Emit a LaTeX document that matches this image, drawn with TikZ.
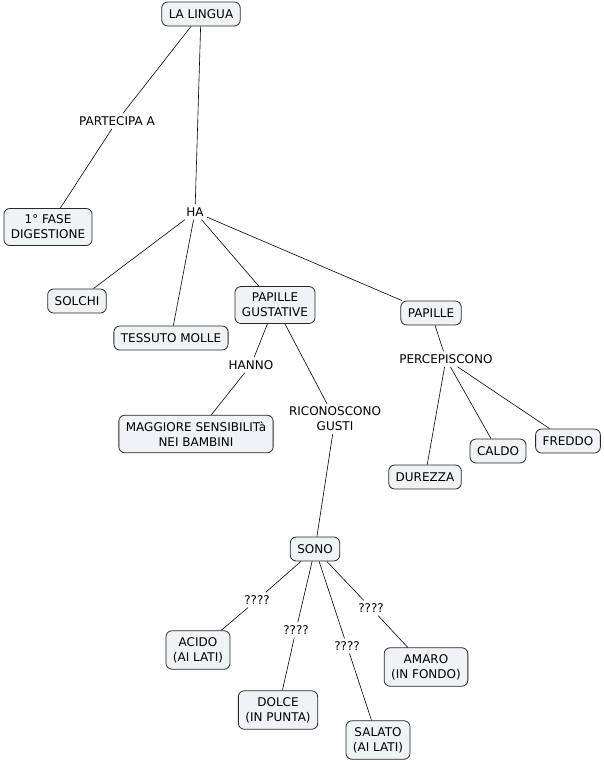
\documentclass[tikz,border=0pt]{standalone}
\usepackage{fontspec}
\setmainfont{DejaVu Sans}
\definecolor{boxfill}{RGB}{238,243,245}
\definecolor{boxline}{RGB}{40,40,40}
\begin{document}
\begin{tikzpicture}[x=1pt,y=-1pt,
  concept/.style={draw=boxline,fill=boxfill,rounded corners=6pt,line width=0.8pt,
    align=center,inner xsep=7pt,inner ysep=6.5pt,minimum height=24pt,
    font=\fontsize{12}{15}\selectfont},
  linklabel/.style={align=center,inner sep=3pt,font=\fontsize{12}{15}\selectfont},
  conn/.style={draw=black,line width=0.6pt}]
\useasboundingbox (0,0) rectangle (603,763);
% concepts
\node[concept] (lingua) at (201,14) {LA LINGUA};
\node[concept] (fase) at (48,227) {1° FASE\\DIGESTIONE};
\node[concept] (solchi) at (77,301) {SOLCHI};
\node[concept] (tessuto) at (171,338) {TESSUTO MOLLE};
\node[concept] (gustative) at (275,305) {PAPILLE\\GUSTATIVE};
\node[concept] (papille) at (431,313) {PAPILLE};
\node[concept] (maggiore) at (196,434) {MAGGIORE SENSIBILITà\\NEI BAMBINI};
\node[concept] (durezza) at (425,477) {DUREZZA};
\node[concept] (caldo) at (498,451) {CALDO};
\node[concept] (freddo) at (568,441) {FREDDO};
\node[concept] (sono) at (315,549) {SONO};
\node[concept] (acido) at (198,650) {ACIDO\\(AI LATI)};
\node[concept] (dolce) at (278,710) {DOLCE\\(IN PUNTA)};
\node[concept] (salato) at (378,740) {SALATO\\(AI LATI)};
\node[concept] (amaro) at (426,667) {AMARO\\(IN FONDO)};
% link labels
\node[linklabel] (partecipa) at (117,121) {PARTECIPA A};
\node[linklabel] (ha) at (195,212) {HA};
\node[linklabel] (hanno) at (251,365) {HANNO};
\node[linklabel] (riconoscono) at (335,419) {RICONOSCONO\\GUSTI};
\node[linklabel] (percepiscono) at (446,359) {PERCEPISCONO};
\node[linklabel] (q1) at (257,600) {????};
\node[linklabel] (q2) at (296,630) {????};
\node[linklabel] (q3) at (347,646) {????};
\node[linklabel] (q4) at (371,608) {????};
% connectors
\draw[conn] (lingua.south) ++(-10,0) coordinate (l1) -- (partecipa);
\draw[conn] (partecipa) -- (fase);
\draw[conn] (lingua) -- (ha);
\draw[conn] (ha) -- (solchi);
\draw[conn] (ha) -- (tessuto);
\draw[conn] (ha) -- (gustative);
\draw[conn] (ha) -- (papille);
\draw[conn] (gustative) -- (hanno);
\draw[conn] (hanno) -- (maggiore);
\draw[conn] (gustative) -- (riconoscono);
\draw[conn] (riconoscono) -- (sono);
\draw[conn] (papille) -- (percepiscono);
\draw[conn] (percepiscono) -- (durezza);
\draw[conn] (percepiscono) -- (caldo);
\draw[conn] (percepiscono) -- (freddo);
\draw[conn] (sono) -- (q1);
\draw[conn] (q1) -- (acido);
\draw[conn] (sono) -- (q2);
\draw[conn] (q2) -- (dolce);
\draw[conn] (sono) -- (q3);
\draw[conn] (q3) -- (salato);
\draw[conn] (sono) -- (q4);
\draw[conn] (q4) -- (amaro);
\end{tikzpicture}
\end{document}
